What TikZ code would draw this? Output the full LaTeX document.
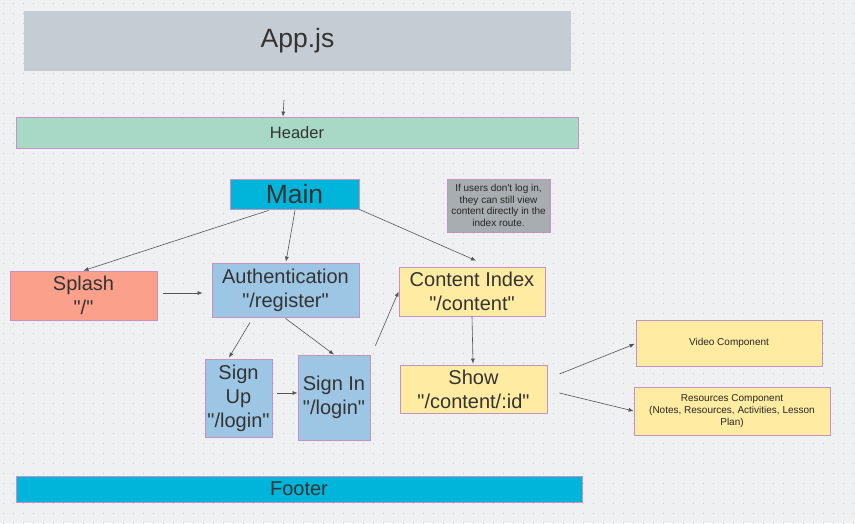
\documentclass[tikz,border=0pt]{standalone}
\usepackage{fontspec}
\setmainfont{Liberation Sans}[Ligatures=TeXOff]
\usetikzlibrary{arrows.meta,calc}
\definecolor{bgc}{HTML}{EFF0F2}
\definecolor{dotc}{HTML}{C9CACD}
\definecolor{bord}{HTML}{C692C6}
\definecolor{txt}{HTML}{333333}
\definecolor{arrc}{HTML}{555555}
\definecolor{appc}{HTML}{C6CCD4}
\definecolor{mintc}{HTML}{A8D8C6}
\definecolor{cyanc}{HTML}{00B5D9}
\definecolor{salmc}{HTML}{FBA08A}
\definecolor{bluec}{HTML}{9DC6E4}
\definecolor{yelc}{HTML}{FFEBA1}
\definecolor{notec}{HTML}{A7ADB0}
\newcommand\fsXL{\fontsize{26.5}{31}\selectfont}
\newcommand\fsL{\fontsize{20}{24}\selectfont}
\newcommand\fsH{\fontsize{16.5}{19}\selectfont}
\newcommand\fsS{\fontsize{10}{11.8}\selectfont}
\begin{document}
\begin{tikzpicture}[x=1pt,y=-1pt,
  box/.style={draw=bord, line width=0.8pt, inner sep=0pt, align=center, text=txt},
  arr/.style={draw=arrc, line width=0.6pt, -{Latex[length=5pt,width=4pt]}}]
\useasboundingbox (0,0) rectangle (855,523);
\fill[bgc] (0,0) rectangle (855,523);
\foreach \yy in {3,13,...,523}
  \draw[dotc, line width=1pt, dash pattern=on 1pt off 9pt] (2.5,\yy) -- (855,\yy);

\node[box, draw=none, fill=appc, minimum width=547pt, minimum height=60pt, font=\fsXL] (app) at (297.5,41) {App.js};
\node[box, fill=mintc, minimum width=562pt, minimum height=31pt, font=\fsH] (header) at (297,132.5) {Header};
\node[box, fill=cyanc, minimum width=129pt, minimum height=30pt, font=\fsXL] (main) at (294.5,194) {Main};
\node[box, fill=notec, minimum width=103pt, minimum height=53pt, font=\fsS, text=black!85] (note) at (498.5,205.5) {If users don't log in,\\they can still view\\content directly in the\\index route.};
\node[box, fill=salmc, minimum width=147pt, minimum height=49pt, font=\fsL] (splash) at (83.5,295.5) {Splash\\"/"};
\node[box, fill=bluec, minimum width=147pt, minimum height=54pt, font=\fsL] (auth) at (285.5,290) {Authentication\\"/register"};
\node[box, fill=yelc, minimum width=146pt, minimum height=49pt, font=\fsL] (content) at (472,291.5) {Content Index\\"/content"};
\node[box, fill=bluec, minimum width=67pt, minimum height=78pt, font=\fsL] (signup) at (238.5,398) {Sign\\Up\\"/login"};
\node[box, fill=bluec, minimum width=72pt, minimum height=85pt, font=\fsL] (signin) at (334,397.5) {Sign In\\"/login"};
\node[box, fill=yelc, minimum width=147pt, minimum height=48pt, font=\fsL] (show) at (473.5,389) {Show\\"/content/:id"};
\node[box, fill=yelc, minimum width=186pt, minimum height=46pt, font=\fsS, text=black!85] (video) at (729,343) {Video Component};
\node[box, fill=yelc, minimum width=196pt, minimum height=48pt, font=\fsS, text=black!85] (res) at (732,411) {Resources Component\\(Notes, Resources, Activities, Lesson\\Plan)};
\node[box, fill=cyanc, minimum width=566pt, minimum height=26pt, font=\fsL] (footer) at (299,489) {Footer};

\coordinate (appout) at (284,100);
\draw[arr] (appout) -- (header.north -| 283,0);
\draw[arr] ($(main.south west)!0.3!(main.south east)+(0,1)$) -- (splash.north);
\draw[arr] ($(main.south)+(0.5,1)$) -- ($(auth.north)+(0.5,-1)$);
\draw[arr] (main.south east) -- ($(content.north)+(4,-6)$);
\draw[arr] ($(splash.east)+(6,-2.5)$) -- ($(auth.west)+(-9,3)$);
\draw[arr] ($(auth.south west)!0.26!(auth.south east)+(0,5)$) -- ($(signup.north)+(-9.5,-1)$);
\draw[arr] ($(auth.south)+(0,1)$) -- (signin.north);
\draw[arr] ($(signin.north east)+(5,-9)$) -- (content.west);
\draw[arr] ($(signup.east)+(5,-5)$) -- ($(signin.west)+(0,-4.5)$);
\draw[arr] (content.south) -- ($(show.north)+(-0.5,-1)$);
\draw[arr] ($(show.east)+(12,-15)$) -- ($(video.west)+(-1,1)$);
\draw[arr] ($(show.east)+(12,4)$) -- (res.west);
\end{tikzpicture}
\end{document}
